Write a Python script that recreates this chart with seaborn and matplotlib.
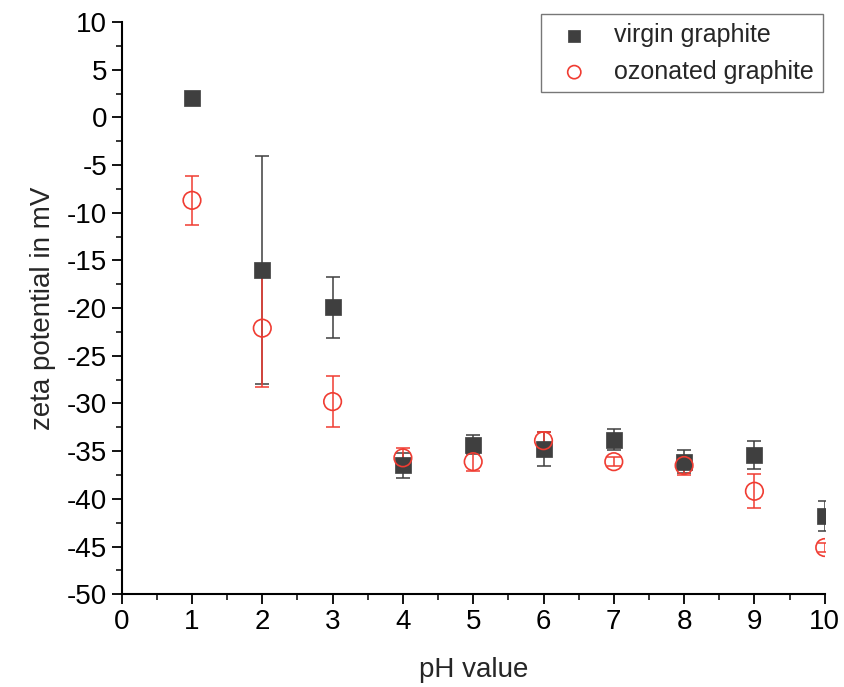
import numpy as np
import pandas as pd
import matplotlib.pyplot as plt
import seaborn as sns
from matplotlib.ticker import MultipleLocator

ph = [1, 2, 3, 4, 5, 6, 7, 8, 9, 10]
virgin = [2.0, -16.0, -19.9, -36.5, -34.3, -34.8, -33.8, -36.1, -35.4, -41.8]
virgin_err = [0.6, 12.0, 3.2, 1.3, 1.0, 1.8, 1.1, 1.2, 1.5, 1.6]
ozonated = [-8.7, -22.1, -29.8, -35.7, -36.1, -33.9, -36.1, -36.5, -39.2, -45.1]
ozonated_err = [2.6, 6.2, 2.7, 1.0, 1.0, 0.9, 0.5, 1.0, 1.8, 0.5]

df = pd.DataFrame({
    "pH": ph * 2,
    "zeta": virgin + ozonated,
    "err": virgin_err + ozonated_err,
    "sample": ["virgin graphite"] * 10 + ["ozonated graphite"] * 10,
})

sns.set_style("ticks")
plt.rcParams["font.family"] = ["Liberation Sans", "DejaVu Sans"]
plt.rcParams["axes.unicode_minus"] = False

fig = plt.figure(figsize=(8.45, 6.87), dpi=100)
ax = fig.add_axes([0.144, 0.135, 0.832, 0.833])

dark = "#3f3f3f"
red = "#f03c32"

v = df[df["sample"] == "virgin graphite"]
o = df[df["sample"] == "ozonated graphite"]
ax.errorbar(v["pH"], v["zeta"], yerr=v["err"], fmt="none", ecolor=dark,
            elinewidth=1.1, capsize=5, capthick=1.1, zorder=2)
ax.errorbar(o["pH"], o["zeta"], yerr=o["err"], fmt="none", ecolor=red,
            elinewidth=1.1, capsize=5, capthick=1.1, zorder=3)

sns.scatterplot(data=v, x="pH", y="zeta", marker="s", s=130, color=dark,
                edgecolor=dark, linewidth=0.5, ax=ax, zorder=4,
                label="virgin graphite")
sns.scatterplot(data=o, x="pH", y="zeta", marker="o", s=160, facecolor="none",
                edgecolor=red, linewidth=1.2, ax=ax, zorder=5,
                label="ozonated graphite")

ax.set_xlim(0, 10)
ax.set_ylim(-50, 10)
ax.xaxis.set_major_locator(MultipleLocator(1))
ax.xaxis.set_minor_locator(MultipleLocator(0.5))
ax.yaxis.set_major_locator(MultipleLocator(5))
ax.yaxis.set_minor_locator(MultipleLocator(2.5))
ax.tick_params(which="major", direction="out", length=7, width=1.3, labelsize=20, colors="black")
ax.tick_params(which="minor", direction="out", length=4, width=1.3)
for side in ["top", "right"]:
    ax.spines[side].set_visible(False)
for side in ["left", "bottom"]:
    ax.spines[side].set_linewidth(1.5)
    ax.spines[side].set_color("black")

ax.set_xlabel("pH value", fontsize=20, labelpad=16)
ax.set_ylabel("zeta potential in mV", fontsize=20, labelpad=8)

leg = ax.legend(loc="upper right", fontsize=18, frameon=True, fancybox=False,
                edgecolor="#555555", handletextpad=0.6, borderpad=0.35,
                markerscale=0.75, bbox_to_anchor=(1.015, 1.035))
leg.get_frame().set_linewidth(1.0)

fig.savefig("out.png", dpi=100)
